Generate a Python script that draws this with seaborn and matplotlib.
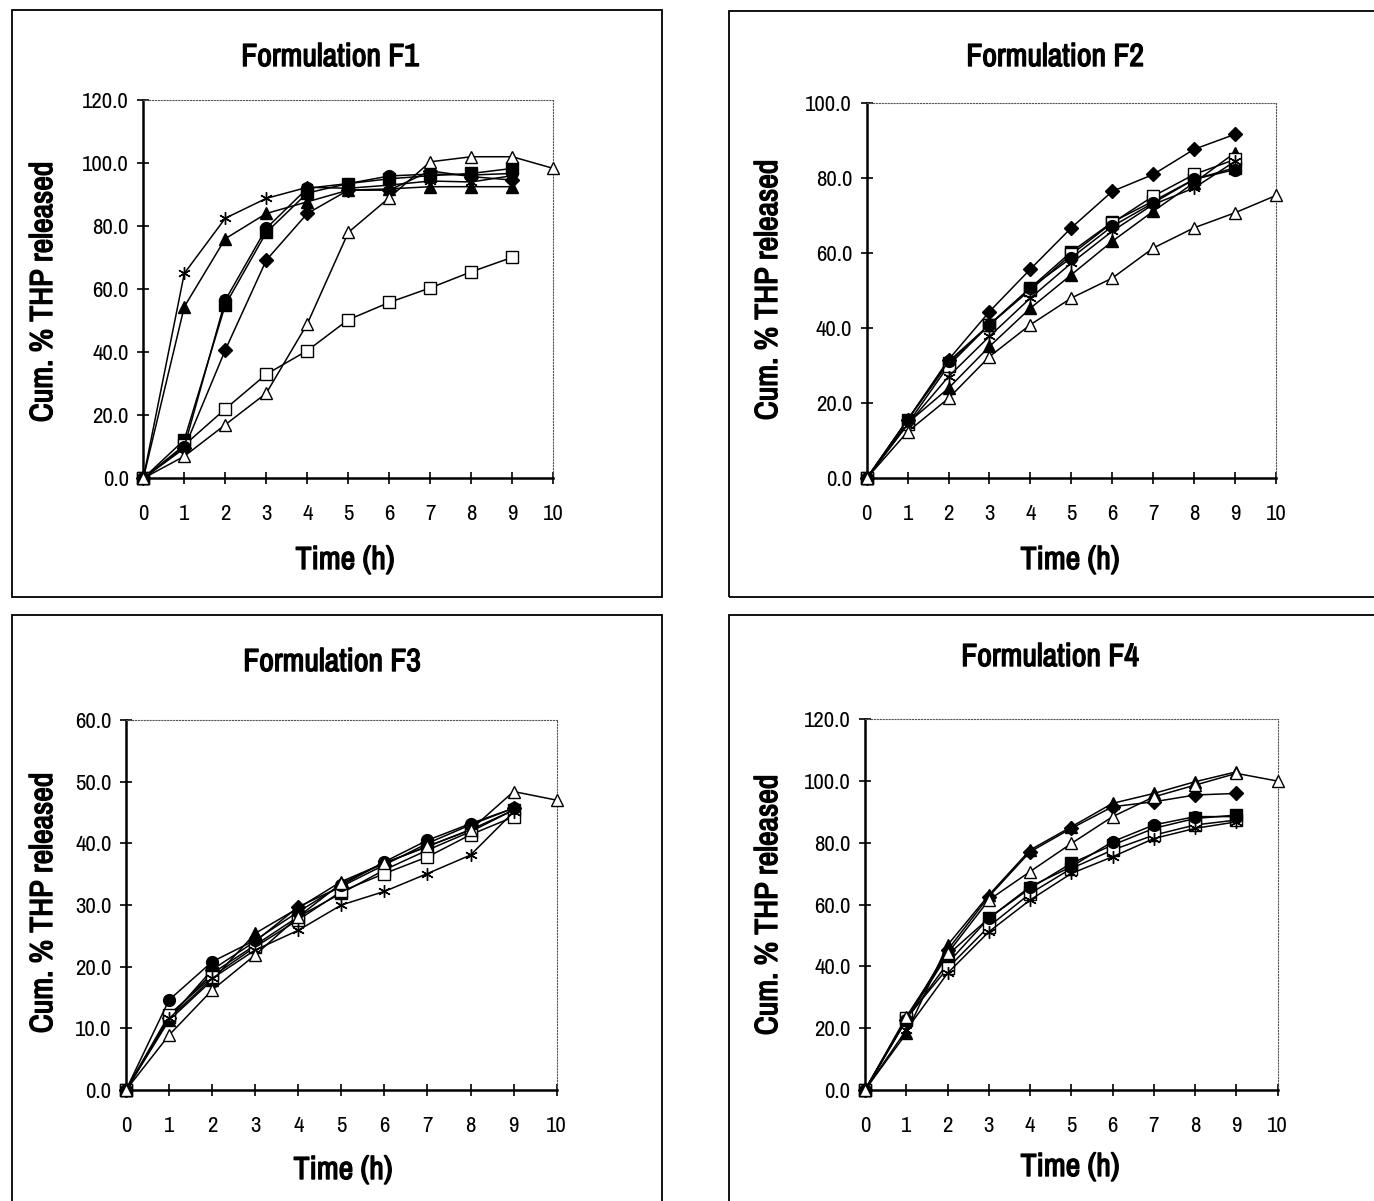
import numpy as np
import pandas as pd
import matplotlib
matplotlib.use("Agg")
import matplotlib.pyplot as plt
from matplotlib import font_manager
import matplotlib.patheffects as pe
import seaborn as sns
from matplotlib.patches import Rectangle
from matplotlib.ticker import FormatStrFormatter, MultipleLocator

sns.set_theme(style="white")

# pick a narrow / condensed family if one is installed
_entries = font_manager.fontManager.ttflist
_names = sorted({f.name for f in _entries})
_narrow = [n for n in _names if ('Narrow' in n or 'Condensed' in n)]
_pref = [n for n in ['Liberation Sans Narrow', 'DejaVu Sans Condensed'] if n in _names]
_order = _pref + [n for n in _narrow if n not in _pref]
_bold_ok = {f.name for f in _entries
            if isinstance(f.weight, (int, float)) and f.weight >= 600
            or (isinstance(f.weight, str) and 'bold' in f.weight.lower())}
_fam = _order + ['Liberation Sans', 'DejaVu Sans']
plt.rcParams['font.family'] = _fam
plt.rcParams['text.color'] = 'black'
plt.rcParams['font.stretch'] = 'condensed'
HAS_BOLD = bool(_order) and _order[0] in _bold_ok

time9 = [0, 1, 2, 3, 4, 5, 6, 7, 8, 9]
time10 = [0, 1, 2, 3, 4, 5, 6, 7, 8, 9, 10]

# ---- Formulation F1 ----
f1_diamond = [0, 9.5, 40.7, 69.2, 84.0, 91.4, 91.4, 97.5, 95.7, 94.6]
f1_fsquare = [0, 12.2, 55.0, 78.0, 90.5, 93.5, 95.0, 96.0, 96.7, 98.3]
f1_ftri = [0, 54.4, 76.0, 84.0, 87.7, 91.4, 91.8, 92.5, 92.5, 92.5]
f1_osquare = [0, 10.5, 22.0, 33.0, 40.5, 50.3, 55.8, 60.4, 65.5, 70.1]
f1_cross = [0, 65.0, 82.5, 88.8, 92.3, 92.0, 93.0, 94.3, 94.0, 96.0]
f1_circle = [0, 10.0, 56.5, 79.3, 92.0, 93.5, 95.9, 96.5, 96.2, 96.7]
f1_otri = [0, 7.0, 17.0, 27.0, 49.0, 78.0, 89.0, 100.4, 102.0, 102.0, 98.3]

# ---- Formulation F2 ----
f2_diamond = [0, 15.6, 31.6, 44.4, 55.7, 66.7, 76.4, 80.9, 87.6, 91.6]
f2_fsquare = [0, 15.6, 30.7, 40.9, 50.7, 60.3, 68.2, 73.8, 79.6, 82.7]
f2_ftri = [0, 14.7, 24.0, 35.1, 45.3, 54.2, 63.1, 71.1, 78.7, 86.7]
f2_osquare = [0, 14.5, 30.0, 40.9, 50.2, 59.6, 68.0, 75.1, 80.9, 84.9]
f2_cross = [0, 14.3, 27.1, 37.8, 48.0, 57.3, 65.8, 72.9, 77.3, 84.4]
f2_circle = [0, 15.6, 31.1, 40.9, 50.7, 58.7, 67.1, 73.3, 79.6, 82.2]
f2_otri = [0, 12.4, 21.3, 32.4, 40.9, 48.0, 53.3, 61.3, 66.7, 70.7, 75.3]

# ---- Formulation F3 ----
f3_diamond = [0, 11.6, 19.5, 24.1, 29.7, 33.0, 36.5, 40.0, 43.0, 45.7]
f3_fsquare = [0, 11.9, 18.9, 23.5, 28.1, 31.9, 35.7, 38.9, 41.9, 45.4]
f3_ftri = [0, 11.3, 17.8, 25.4, 29.5, 33.8, 36.8, 39.5, 42.2, 45.4]
f3_osquare = [0, 12.2, 18.4, 23.2, 27.6, 32.2, 35.1, 37.8, 41.4, 44.3]
f3_cross = [0, 11.6, 18.1, 22.7, 25.9, 30.0, 32.2, 35.1, 38.1, 45.1]
f3_circle = [0, 14.6, 20.8, 24.3, 28.9, 33.2, 37.0, 40.5, 43.2, 45.7]
f3_otri = [0, 8.9, 16.2, 21.9, 28.1, 33.5, 36.8, 39.5, 42.2, 48.4, 47.0]

# ---- Formulation F4 ----
f4_diamond = [0, 22.7, 45.3, 62.6, 77.1, 84.7, 91.7, 93.3, 95.5, 96.0]
f4_fsquare = [0, 22.7, 41.0, 55.6, 65.3, 73.4, 79.3, 84.7, 87.9, 89.0]
f4_ftri = [0, 18.3, 46.9, 63.1, 77.7, 85.2, 92.8, 96.0, 99.8, 103.0]
f4_osquare = [0, 23.2, 39.4, 52.9, 63.6, 71.7, 77.7, 82.5, 85.8, 87.4]
f4_cross = [0, 19.4, 37.8, 51.2, 61.5, 70.1, 75.5, 81.4, 84.7, 86.8]
f4_circle = [0, 22.7, 43.7, 55.6, 65.8, 72.3, 80.4, 85.8, 88.5, 88.5]
f4_otri = [0, 23.7, 44.2, 61.5, 70.7, 79.8, 88.5, 94.9, 98.7, 102.5, 100.0]

titles = ["Formulation F1", "Formulation F2", "Formulation F3", "Formulation F4"]
ymax = [120, 100, 60, 120]
ystep = [20, 20, 10, 20]
x_ticks = [0, 1, 2, 3, 4, 5, 6, 7, 8, 9, 10]

panels = [
    [f1_diamond, f1_fsquare, f1_ftri, f1_osquare, f1_cross, f1_circle, f1_otri],
    [f2_diamond, f2_fsquare, f2_ftri, f2_osquare, f2_cross, f2_circle, f2_otri],
    [f3_diamond, f3_fsquare, f3_ftri, f3_osquare, f3_cross, f3_circle, f3_otri],
    [f4_diamond, f4_fsquare, f4_ftri, f4_osquare, f4_cross, f4_circle, f4_otri],
]

marker_styles = [
    dict(marker='D', markerfacecolor='black', markersize=7.5),
    dict(marker='s', markerfacecolor='black', markersize=8),
    dict(marker='^', markerfacecolor='black', markersize=8.5),
    dict(marker='s', markerfacecolor='white', markersize=8.5),
    dict(marker=(6, 2, 0), markerfacecolor='black', markersize=9),
    dict(marker='o', markerfacecolor='black', markersize=8.5),
    dict(marker='^', markerfacecolor='white', markersize=8.5),
]

W, H = 1374, 1201
fig = plt.figure(figsize=(W / 100, H / 100), dpi=100)
fig.patch.set_facecolor('white')

def fx(x):
    return x / W

def fy(y):
    return (H - y) / H

ax_px = [(143.3, 553.3, 100.0, 478.3),
         (866.7, 1276.0, 102.7, 478.3),
         (126.0, 556.7, 720.0, 1090.0),
         (865.0, 1277.7, 719.3, 1090.0)]

frames = [(12, 10, 662, 597), (729, 11, 1420, 597),
          (12, 615, 662, 1250), (729, 615, 1420, 1250)]
for (x0, y0, x1, y1) in frames:
    fig.patches.append(Rectangle((fx(x0), fy(y1)), fx(x1 - x0), (y1 - y0) / H,
                                 transform=fig.transFigure, fill=False,
                                 edgecolor='black', linewidth=1.3))

title_pos = [(330, 57), (1055, 57), (332, 662), (1050, 657)]
xlabel_pos = [(345, 560), (1070, 560), (343, 1170), (1070, 1167)]
ylabel_pos = [(43, 292), (768, 290), (43, 903), (768, 905)]

bold_kw = dict(fontweight='bold', color='black')
if not HAS_BOLD:
    bold_kw['path_effects'] = [pe.withStroke(linewidth=1.0, foreground='black')]

for i in range(4):
    x0, x10, yt, yb = ax_px[i]
    ax = fig.add_axes([fx(x0), fy(yb), (x10 - x0) / W, (yb - yt) / H])
    ax.set_facecolor('white')
    series = panels[i]
    for j, vals in enumerate(series):
        t = time10 if len(vals) == 11 else time9
        df = pd.DataFrame({'t': t, 'v': vals})
        sns.lineplot(data=df, x='t', y='v', ax=ax, color='black', linewidth=1.1,
                     markeredgecolor='black', markeredgewidth=1.0, clip_on=False,
                     zorder=3, **marker_styles[j])
    ax.set_xlim(0, 10)
    ax.set_ylim(0, ymax[i])
    ax.set_xticks(x_ticks)
    ax.yaxis.set_major_locator(MultipleLocator(ystep[i]))
    ax.yaxis.set_major_formatter(FormatStrFormatter('%.1f'))
    ax.set_xlabel('')
    ax.set_ylabel('')
    ax.tick_params(axis='both', which='major', direction='inout', length=9,
                   width=1.2, colors='black', labelsize=16.5,
                   left=True, bottom=True)
    ax.tick_params(axis='x', pad=14)
    ax.tick_params(axis='y', pad=6)
    for s in ['left', 'bottom']:
        ax.spines[s].set_color('black')
        ax.spines[s].set_linewidth(1.8)
    for s in ['top', 'right']:
        ax.spines[s].set_color('#555555')
        ax.spines[s].set_linewidth(0.8)
        ax.spines[s].set_linestyle(':')
    ax.grid(False)

    tx, ty = title_pos[i]
    fig.text(fx(tx), fy(ty), titles[i], ha='center', va='center',
             fontsize=23, **bold_kw)
    lx, ly = xlabel_pos[i]
    fig.text(fx(lx), fy(ly), 'Time (h)', ha='center', va='center',
             fontsize=23, **bold_kw)
    yx, yy = ylabel_pos[i]
    fig.text(fx(yx), fy(yy), 'Cum. % THP released', ha='center', va='center',
             rotation=90, fontsize=23, **bold_kw)

fig.savefig('out.png', dpi=100, facecolor='white')
